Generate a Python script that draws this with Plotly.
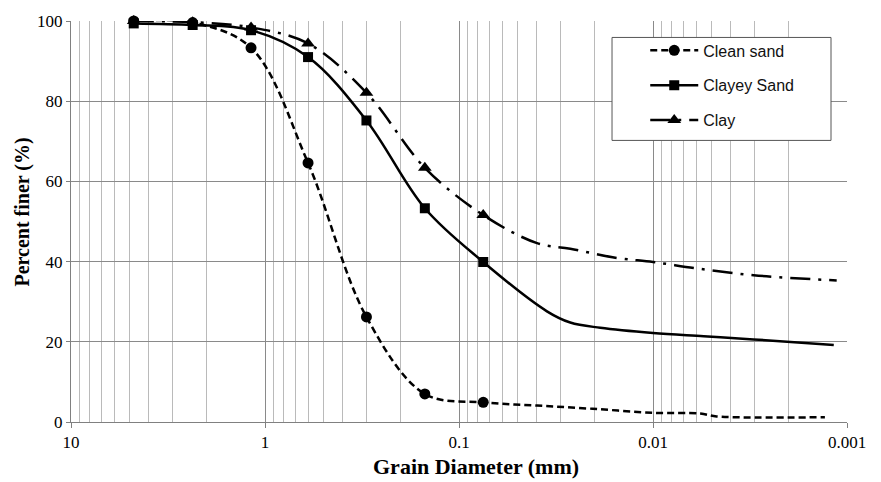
import plotly.graph_objects as go

# ---- Data (grain diameter in mm, percent finer) ----
sieve_d = [4.75, 2.36, 1.18, 0.6, 0.3, 0.15, 0.075]
clean_sieve = [100, 99.6, 93.3, 64.6, 26.2, 7.0, 4.9]
clayey_sieve = [99.4, 99.0, 97.7, 91.0, 75.2, 53.3, 39.9]
clay_sieve = [100, 99.7, 98.4, 94.4, 82.1, 63.4, 51.6]

clean_hyd_d = [0.0396, 0.0205, 0.01, 0.0057, 0.0047, 0.0013]
clean_hyd = [4.1, 3.3, 2.3, 2.1, 1.4, 1.2]
clayey_hyd_d = [0.0352, 0.0267, 0.0187, 0.01, 0.00548, 0.00303, 0.00117]
clayey_hyd = [27.6, 24.8, 23.5, 22.2, 21.4, 20.6, 19.2]
clay_hyd_d = [0.0396, 0.0267, 0.0153, 0.01, 0.00593, 0.00303, 0.00113]
clay_hyd = [44.6, 43.2, 40.9, 39.9, 38.3, 36.6, 35.3]

names = ["Clean sand", "Clayey Sand", "Clay"]
tick_vals = [10, 1, 0.1, 0.01, 0.001]
tick_text = ["10", "1", "0.1", "0.01", "0.001"]

series = [
    (names[0], clean_sieve, clean_hyd_d, clean_hyd, "7px,4px", "circle", 11),
    (names[1], clayey_sieve, clayey_hyd_d, clayey_hyd, "solid", "square", 10),
    (names[2], clay_sieve, clay_hyd_d, clay_hyd, "20px,8px,3px,8px", "triangle-up", 12),
]

fig = go.Figure()
# curves
for name, ys, hd, hy, dash, sym, ms in series:
    line = dict(color="black", width=2.5, dash=dash, shape="spline", smoothing=1)
    fig.add_trace(go.Scatter(x=sieve_d + hd, y=ys + hy, mode="lines", line=line,
                             showlegend=False, legendgroup=name, hoverinfo="skip",
                             cliponaxis=False))
# markers (clean sand drawn on top)
for name, ys, hd, hy, dash, sym, ms in reversed(series):
    fig.add_trace(go.Scatter(x=sieve_d, y=ys, mode="markers",
                             marker=dict(symbol=sym, size=ms, color="black"),
                             showlegend=False, legendgroup=name, cliponaxis=False))
# legend entries
for name, ys, hd, hy, dash, sym, ms in series:
    fig.add_trace(go.Scatter(x=[None], y=[None], mode="lines+markers", name=name,
                             line=dict(color="black", width=2.5, dash=dash),
                             marker=dict(symbol=sym, size=ms, color="black"),
                             legendgroup=name, showlegend=True))

minor_vals = [m * 10.0 ** e for e in range(-3, 1) for m in range(2, 10)]

fig.update_layout(
    width=881, height=482,
    margin=dict(l=71, r=34, t=17, b=60),
    paper_bgcolor="white", plot_bgcolor="white",
    xaxis=dict(
        type="log", range=[1, -3],
        tickmode="array", tickvals=tick_vals, ticktext=tick_text,
        showgrid=True, gridcolor="#8a8a8a", gridwidth=1,
        minor=dict(tickmode="array", tickvals=minor_vals, showgrid=True,
                   gridcolor="#bababa", gridwidth=1, ticks=""),
        showline=True, linecolor="#808080", linewidth=1,
        ticks="outside", ticklen=5, tickcolor="#808080",
        tickfont=dict(family="Liberation Serif", size=17, color="black"),
        zeroline=False,
    ),
    yaxis=dict(
        range=[0, 100], tickmode="linear", tick0=0, dtick=20,
        showgrid=True, gridcolor="#8a8a8a", gridwidth=1,
        showline=True, linecolor="#808080", linewidth=1,
        ticks="outside", ticklen=4, tickcolor="#808080",
        tickfont=dict(family="Liberation Serif", size=17, color="black"),
        zeroline=False,
    ),
    legend=dict(
        x=0.74, y=0.969, xanchor="left", yanchor="top",
        bgcolor="rgba(0,0,0,0)", borderwidth=0,
        font=dict(family="Liberation Sans", size=16, color="#111111"),
        itemwidth=48, tracegroupgap=11, traceorder="grouped",
    ),
    shapes=[dict(type="rect", xref="paper", yref="paper",
                 x0=0.6972, x1=0.9794, y0=0.7022, y1=0.959,
                 line=dict(color="#555555", width=1), fillcolor="white", layer="above")],
    annotations=[
        dict(text="<b>Percent finer (%)</b>", xref="paper", yref="paper",
             x=-0.0628, y=0.523, xanchor="center", yanchor="middle",
             textangle=-90, showarrow=False,
             font=dict(family="Liberation Serif", size=20, color="black")),
        dict(text="<b>Grain Diameter (mm)</b>", xref="paper", yref="paper",
             x=0.5216, y=-0.112, xanchor="center", yanchor="middle", showarrow=False,
             font=dict(family="Liberation Serif", size=22, color="black")),
    ],
)

fig.write_html("out.html")
